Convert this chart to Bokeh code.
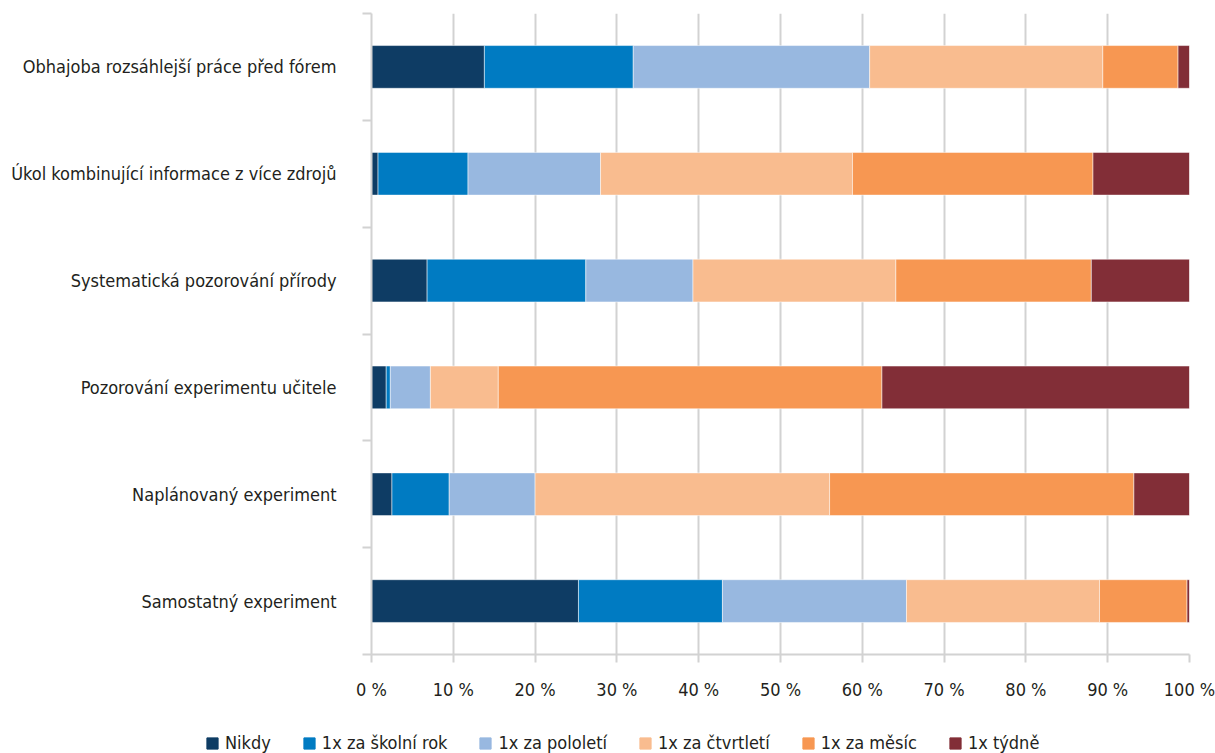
from bokeh.plotting import figure
from bokeh.models import (ColumnDataSource, Range1d, FixedTicker, PrintfTickFormatter,
                          Legend, LegendItem)
from bokeh.embed import file_html
from bokeh.resources import INLINE

categories = [
    "Samostatný experiment",
    "Naplánovaný experiment",
    "Pozorování experimentu učitele",
    "Systematická pozorování přírody",
    "Úkol kombinující informace z více zdrojů",
    "Obhajoba rozsáhlejší práce před fórem",
]
series = ["Nikdy", "1x za školní rok", "1x za pololetí", "1x za čtvrtletí", "1x za měsíc", "1x týdně"]
nikdy    = [25.3, 2.5, 1.8, 6.8, 0.8, 13.8]
skolni   = [17.6, 7.0, 0.5, 19.4, 11.0, 18.2]
pololeti = [22.5, 10.5, 4.9, 13.1, 16.2, 28.9]
ctvrt    = [23.6, 36.0, 8.3, 24.8, 30.8, 28.5]
mesic    = [10.7, 37.2, 46.9, 23.9, 29.4, 9.2]
tydne    = [0.3, 6.8, 37.6, 12.0, 11.8, 1.4]
x_ticks = [0, 10, 20, 30, 40, 50, 60, 70, 80, 90, 100]

colors = ["#0e3c64", "#007bc2", "#98b8e0", "#f9bc8f", "#f79752", "#822e37"]
FONT = "DejaVu Sans Condensed, sans-serif"
TXT = "#231f20"
GRID = "#d2d2d2"

ypos = [i + 0.5 for i in range(len(categories))]
keys = ["nikdy", "skolni", "pololeti", "ctvrt", "mesic", "tydne"]
src = ColumnDataSource(dict(y=ypos, nikdy=nikdy, skolni=skolni, pololeti=pololeti,
                            ctvrt=ctvrt, mesic=mesic, tydne=tydne))

p = figure(width=1215, height=710, output_backend="svg", toolbar_location=None,
           x_range=Range1d(0, 100), y_range=Range1d(0, len(categories)),
           min_border_left=371, min_border_right=26, min_border_top=13, min_border_bottom=56)
p.outline_line_color = None

renderers = p.hbar_stack(keys, y="y", height=0.4, color=colors, source=src,
                         line_color="white", line_width=0.5)

# x axis
p.xaxis.ticker = FixedTicker(ticks=x_ticks)
p.xaxis.formatter = PrintfTickFormatter(format="%d %%")
p.xaxis.axis_line_color = GRID
p.xaxis.axis_line_width = 2
p.xaxis.major_tick_line_color = GRID
p.xaxis.major_tick_line_width = 2
p.xaxis.major_tick_out = 8
p.xaxis.major_tick_in = 0
p.xaxis.minor_tick_line_color = None
p.xaxis.major_label_text_font = FONT
p.xaxis.major_label_text_font_size = "18px"
p.xaxis.major_label_text_color = TXT
p.xaxis.major_label_standoff = 16

# y axis: labels at centers, ticks at category boundaries
p.yaxis.ticker = FixedTicker(ticks=ypos, minor_ticks=list(range(len(categories) + 1)))
p.yaxis.major_label_overrides = {y: c for y, c in zip(ypos, categories)}
p.yaxis.axis_line_color = GRID
p.yaxis.axis_line_width = 2
p.yaxis.major_tick_line_color = None
p.yaxis.major_tick_out = 0
p.yaxis.major_tick_in = 0
p.yaxis.minor_tick_line_color = GRID
p.yaxis.minor_tick_line_width = 2
p.yaxis.minor_tick_out = 9
p.yaxis.minor_tick_in = 0
p.yaxis.major_label_text_font = FONT
p.yaxis.major_label_text_font_size = "18px"
p.yaxis.major_label_text_color = TXT
p.yaxis.major_label_standoff = 26

p.xgrid.grid_line_color = GRID
p.xgrid.grid_line_width = 2
p.ygrid.grid_line_color = None

# legend strip below the chart (separate root, so its frame spans the full width)
lf = figure(width=1215, height=43, output_backend="svg", toolbar_location=None,
            x_axis_location=None, y_axis_location=None,
            x_range=Range1d(0, 100), y_range=Range1d(100, 101), min_border=0)
lf.outline_line_color = None
lf.grid.grid_line_color = None
leg_renderers = lf.hbar_stack(keys, y="y", height=0.4, color=colors, source=src)

legend = Legend(items=[LegendItem(label=s, renderers=[r]) for s, r in zip(series, leg_renderers)],
                orientation="horizontal", location=(205, 0))
legend.label_text_font = FONT
legend.label_text_font_size = "18px"
legend.label_text_color = TXT
legend.glyph_width = 14
legend.glyph_height = 14
legend.spacing = 31
legend.label_standoff = 6
legend.border_line_color = None
legend.background_fill_alpha = 0
legend.padding = 0
legend.margin = 0
lf.add_layout(legend)

open("out.html", "w").write(file_html([p, lf], INLINE))
